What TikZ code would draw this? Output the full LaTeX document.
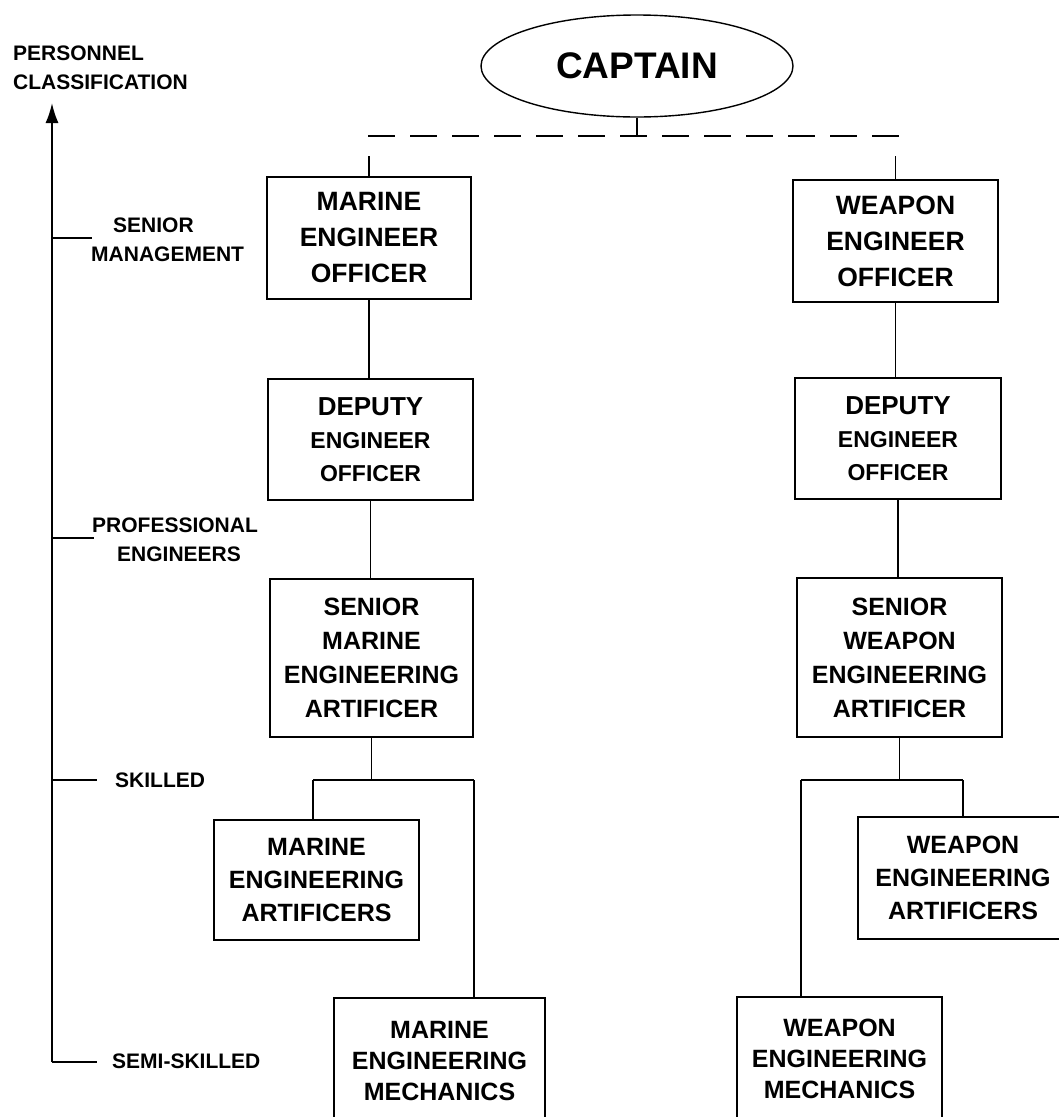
\documentclass[tikz,border=0pt]{standalone}
\usepackage{fontspec}
\setmainfont{Liberation Sans}
\usetikzlibrary{shapes.geometric,arrows.meta}
\newcommand\bxfont[2]{\fontsize{#1}{#2}\selectfont\bfseries}
\begin{document}
\begin{tikzpicture}[x=1pt,y=-1pt,
  unit/.style={draw, line width=1.5pt, inner sep=0pt, align=center},
  link/.style={line width=1.3pt},
  lbl/.style={font={\bxfont{21}{29}}, align=left, anchor=west, inner sep=0pt},
  ]
\useasboundingbox (0,0) rectangle (1059,1117);
\clip (0,0) rectangle (1059,1117);

% top of the chain of command
\node[draw, ellipse, line width=1.4pt, minimum width=312pt, minimum height=102pt,
      inner sep=0pt, font={\bxfont{37}{40}}] (cap) at (637,66) {CAPTAIN};

% marine engineering branch
\node[unit, minimum width=204pt, minimum height=122pt, font={\bxfont{26.5}{36}}]
  (meo) at (369,238) {MARINE\\ENGINEER\\OFFICER};
\node[unit, minimum width=205pt, minimum height=121pt, font={\bxfont{23}{33}}]
  (mdeo) at (370.5,439.5) {{\fontsize{26}{33}\selectfont DEPUTY}\\ENGINEER\\OFFICER};
\node[unit, minimum width=203pt, minimum height=158pt, font={\bxfont{25}{34}}]
  (smea) at (371.5,658) {SENIOR\\MARINE\\ENGINEERING\\ARTIFICER};
\node[unit, minimum width=205pt, minimum height=120pt, font={\bxfont{25}{33}}]
  (mea) at (316.5,880) {MARINE\\ENGINEERING\\ARTIFICERS};
\node[unit, minimum width=211pt, minimum height=126pt, font={\bxfont{25}{31}}]
  (mem) at (439.5,1061) {MARINE\\ENGINEERING\\MECHANICS};

% weapon engineering branch
\node[unit, minimum width=205pt, minimum height=122pt, font={\bxfont{26.5}{36}}]
  (weo) at (895.5,241) {WEAPON\\ENGINEER\\OFFICER};
\node[unit, minimum width=206pt, minimum height=121pt, font={\bxfont{23}{33}}]
  (wdeo) at (898,438.5) {{\fontsize{26}{33}\selectfont DEPUTY}\\ENGINEER\\OFFICER};
\node[unit, minimum width=205pt, minimum height=159pt, font={\bxfont{25}{34}}]
  (swea) at (899.5,657.5) {SENIOR\\WEAPON\\ENGINEERING\\ARTIFICER};
\node[unit, minimum width=210pt, minimum height=122pt, font={\bxfont{25}{33}}]
  (wea) at (963,878) {WEAPON\\ENGINEERING\\ARTIFICERS};
\node[unit, minimum width=205pt, minimum height=124pt, font={\bxfont{25}{31}}]
  (wem) at (839.5,1059) {WEAPON\\ENGINEERING\\MECHANICS};

% captain's dashed line of command
\coordinate (dl) at (368,136);
\coordinate (dr) at (899,136);
\draw[link] (cap.south) -- (cap.south |- dl);
\draw[link, dash pattern=on 27pt off 15pt] (dl) -- (dr);
\draw[link] (meo.north) -- ++(0,-20);
\draw[link] (weo.north) -- ++(0,-23);

% vertical chains
\draw[link] (meo.south) -- (meo.south |- mdeo.north);
\draw[link] (mdeo.south) -- (mdeo.south |- smea.north);
\draw[link] (weo.south) -- (weo.south |- wdeo.north);
\draw[link] (wdeo.south) -- (wdeo.south |- swea.north);

% marine split
\coordinate (mL) at (313,780);
\coordinate (mR) at (474,780);
\draw[link] (smea.south) -- (smea.south |- mL);
\draw[link] (mL) -- (mR);
\draw[link] (mL) -- (mL |- mea.north);
\draw[link] (mR) -- (mR |- mem.north);

% weapon split
\coordinate (wL) at (801,780);
\coordinate (wR) at (963,780);
\draw[link] (swea.south) -- (swea.south |- wL);
\draw[link] (wL) -- (wR);
\draw[link] (wR) -- (wR |- wea.north);
\draw[link] (wL) -- (wL |- wem.north);

% personnel classification axis
\coordinate (axbot) at (52,1062);
\coordinate (axtop) at (52,103);
\draw[line width=1.8pt, -{Latex[length=20pt,width=13pt]}] (axbot) -- (axtop);
\coordinate (t1) at (52,238);
\coordinate (t2) at (52,538);
\coordinate (t3) at (52,780);
\draw[link] (t1) -- ++(40,0);
\draw[link] (t2) -- ++(42,0);
\draw[link] (t3) -- ++(45,0);
\draw[link] (axbot) -- ++(45,0);

\node[lbl] (pc) at (13,68) {PERSONNEL\\CLASSIFICATION};
\node[lbl] (sm) at (91,240) {\hspace*{22pt}SENIOR\\MANAGEMENT};
\node[lbl] (pe) at (92,540) {PROFESSIONAL\\\hspace*{25pt}ENGINEERS};
\node[lbl] (sk) at (115,780) {SKILLED};
\node[lbl] (ss) at (112,1061) {SEMI-SKILLED};
\end{tikzpicture}
\end{document}
